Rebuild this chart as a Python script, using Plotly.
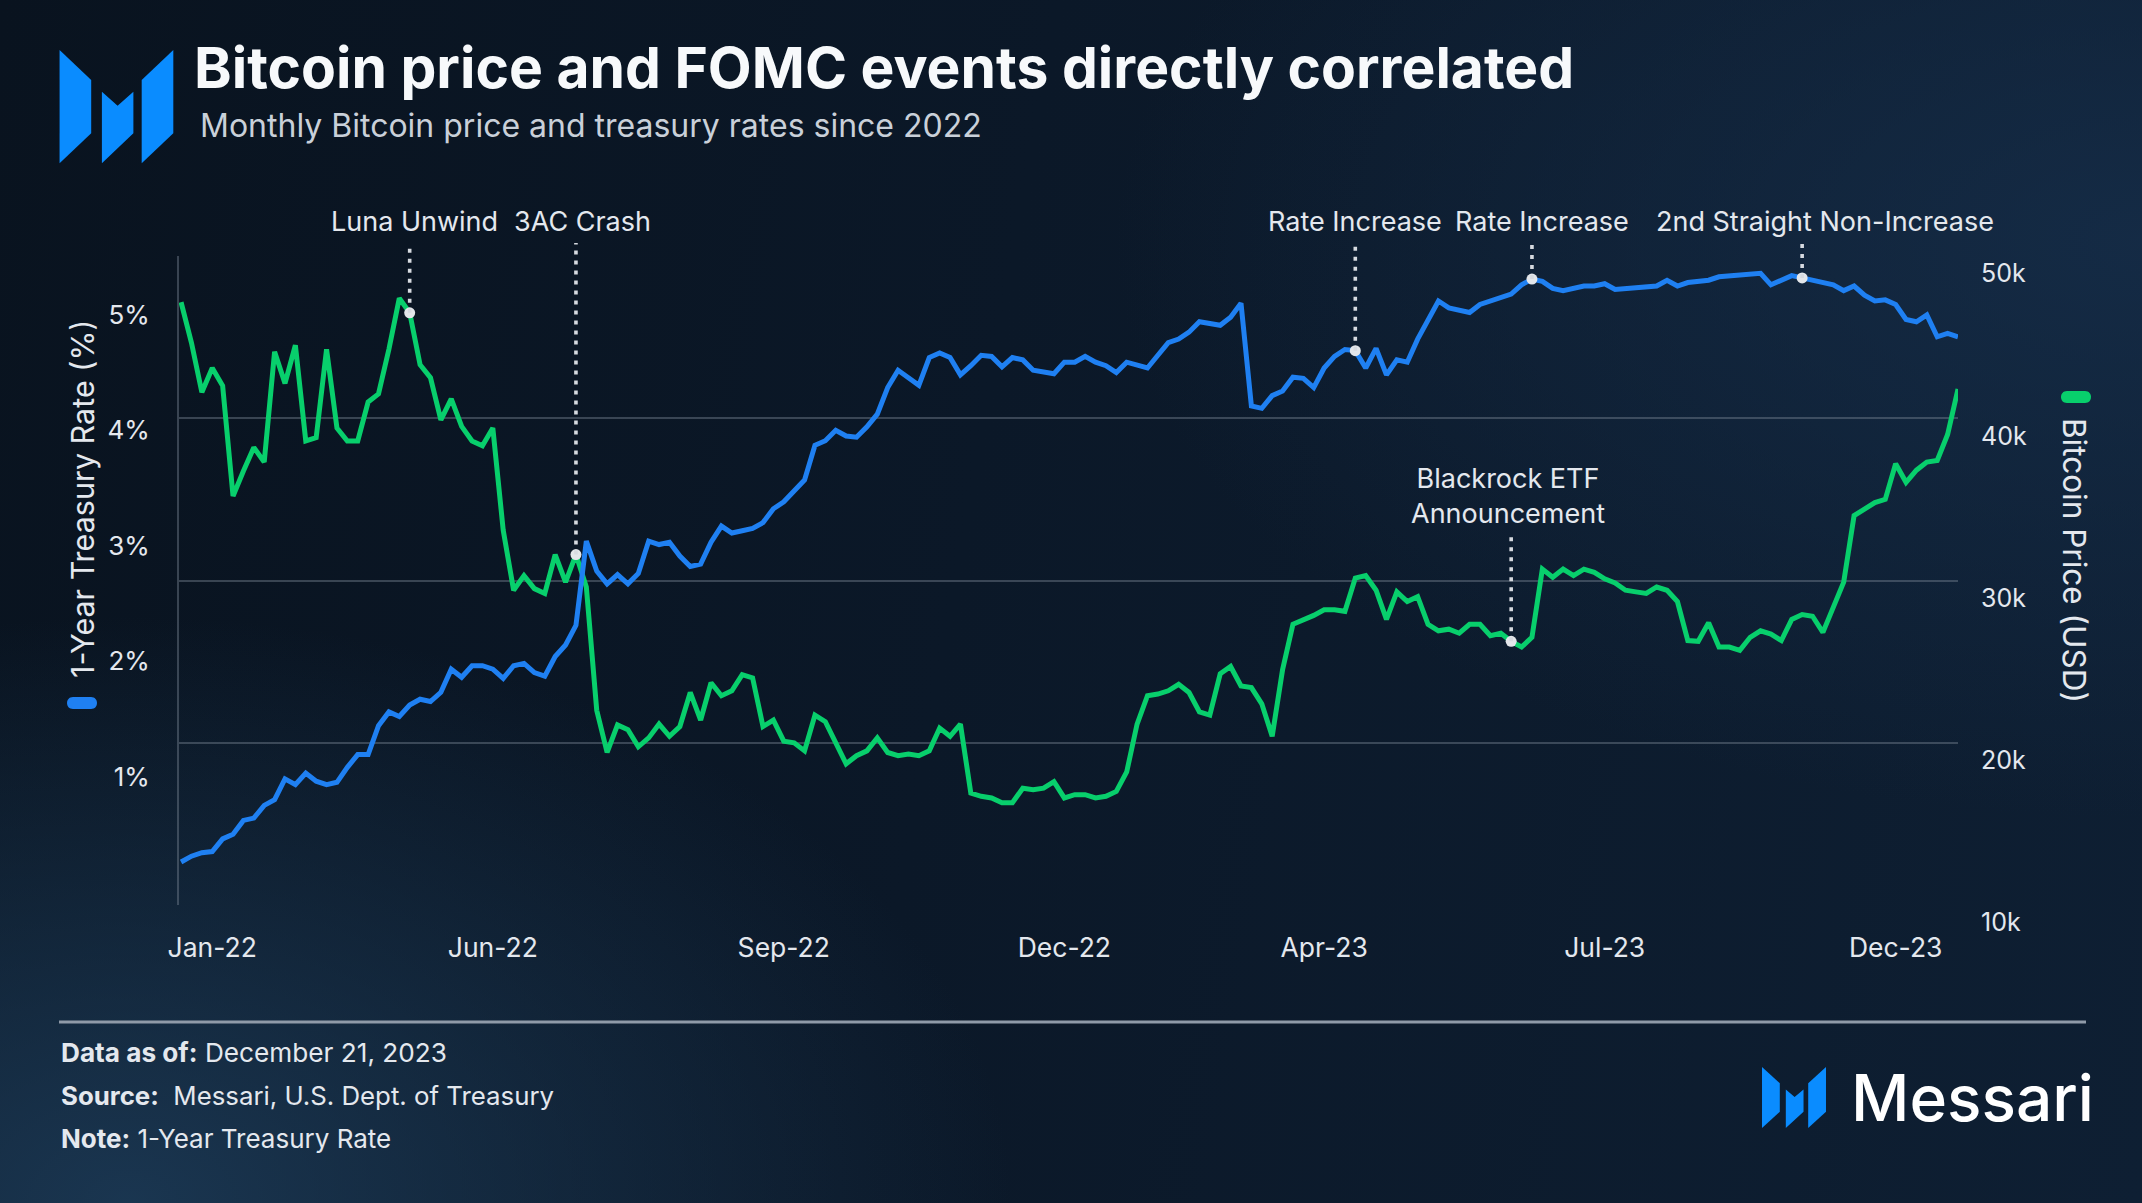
import pandas as pd
import plotly.graph_objects as go

# ---------------- data ----------------
# Bitcoin price in thousands of USD, one value every 3 business days from 2022-01-03
btc_price_k = [
    47.15, 44.65, 41.6, 43.1, 42.0, 35.2, 36.75, 38.2, 37.3, 44.1,
    42.15, 44.5, 38.6, 38.8, 44.25, 39.4, 38.6, 38.6, 41.0, 41.5,
    44.25, 47.4, 46.5, 43.3, 42.5, 39.9, 41.2, 39.5, 38.6, 38.3,
    39.4, 33.1, 29.4, 30.3, 29.5, 29.2, 31.6, 29.9, 31.6, 29.6,
    22.0, 19.4, 21.1, 20.8, 19.75, 20.3, 21.15, 20.4, 21.0, 23.1,
    21.4, 23.7, 22.9, 23.2, 24.2, 24.0, 21.0, 21.4, 20.1, 20.0,
    19.5, 21.7, 21.3, 20.0, 18.7, 19.2, 19.5, 20.3, 19.4, 19.2,
    19.3, 19.2, 19.5, 20.9, 20.4, 21.15, 16.9, 16.7, 16.6, 16.3,
    16.3, 17.2, 17.1, 17.2, 17.6, 16.6, 16.8, 16.8, 16.6, 16.7,
    17.0, 18.2, 21.15, 22.9, 23.0, 23.2, 23.6, 23.1, 21.9, 21.7,
    24.25, 24.7, 23.5, 23.4, 22.4, 20.4, 24.5, 27.3, 27.55, 27.85,
    28.2, 28.2, 28.1, 30.15, 30.3, 29.4, 27.6, 29.3, 28.7, 29.0,
    27.3, 26.9, 27.0, 26.75, 27.3, 27.3, 26.6, 26.75, 26.25, 25.9,
    26.5, 30.7, 30.2, 30.7, 30.3, 30.7, 30.5, 30.1, 29.85, 29.4,
    29.3, 29.2, 29.6, 29.4, 28.7, 26.3, 26.25, 27.4, 25.9, 25.9,
    25.7, 26.5, 26.9, 26.7, 26.3, 27.6, 27.9, 27.8, 26.8, 28.4,
    29.9, 34.0, 34.4, 34.8, 35.0, 37.2, 36.05, 36.8, 37.3, 37.4,
    39.0, 41.8,
]

# 1-Year Treasury rate in percent, same dates
treasury_rate_pct = [
    0.26, 0.31, 0.34, 0.35, 0.46, 0.50, 0.62, 0.64, 0.75, 0.80,
    0.98, 0.93, 1.03, 0.96, 0.93, 0.95, 1.08, 1.19, 1.19, 1.44,
    1.56, 1.52, 1.62, 1.67, 1.65, 1.73, 1.93, 1.86, 1.96, 1.96,
    1.93, 1.85, 1.96, 1.98, 1.90, 1.87, 2.04, 2.14, 2.31, 3.04,
    2.78, 2.67, 2.75, 2.67, 2.76, 3.04, 3.01, 3.03, 2.91, 2.82,
    2.84, 3.03, 3.17, 3.11, 3.13, 3.15, 3.20, 3.32, 3.38, 3.48,
    3.57, 3.87, 3.91, 4.00, 3.95, 3.94, 4.03, 4.14, 4.37, 4.52,
    4.46, 4.39, 4.63, 4.67, 4.63, 4.48, 4.56, 4.65, 4.64, 4.55,
    4.63, 4.61, 4.52, 4.50, 4.49, 4.59, 4.59, 4.64, 4.59, 4.56,
    4.50, 4.59, 4.56, 4.54, 4.65, 4.76, 4.79, 4.85, 4.94, 4.92,
    4.91, 4.98, 5.10, 4.21, 4.19, 4.30, 4.34, 4.46, 4.45, 4.37,
    4.54, 4.64, 4.70, 4.69, 4.54, 4.71, 4.48, 4.61, 4.59, 4.79,
    4.95, 5.12, 5.06, 5.04, 5.02, 5.09, 5.12, 5.16, 5.18, 5.26,
    5.31, 5.29, 5.23, 5.21, 5.23, 5.25, 5.25, 5.27, 5.22, 5.23,
    5.23, 5.24, 5.25, 5.30, 5.25, 5.28, 5.29, 5.30, 5.33, 5.34,
    5.34, 5.35, 5.36, 5.26, 5.30, 5.34, 5.32, 5.30, 5.28, 5.26,
    5.21, 5.25, 5.17, 5.12, 5.13, 5.09, 4.96, 4.94, 5.00, 4.81,
    4.84, 4.81,
]

dates = pd.bdate_range("2022-01-03", periods=len(btc_price_k), freq="3B").strftime("%Y-%m-%d").tolist()

x_tick_index = [3, 30, 58, 85, 110, 137, 165]
x_tick_text = ["Jan-22", "Jun-22", "Sep-22", "Dec-22", "Apr-23", "Jul-23", "Dec-23"]
rate_ticks = [1, 2, 3, 4, 5]
rate_tick_text = ["1%", "2%", "3%", "4%", "5%"]
btc_ticks_k = [10, 20, 30, 40, 50]
btc_tick_text = ["10k", "20k", "30k", "40k", "50k"]

event_labels = ["Luna Unwind", "3AC Crash", "Rate Increase", "Rate Increase",
                "2nd Straight Non-Increase", "Blackrock ETF<br>Announcement"]
event_index = [22, 38, 113, 130, 156, 128]
event_series = ["btc", "btc", "rate", "rate", "rate", "btc"]

# ---------------- styling / layout constants ----------------
W, H = 2142, 1203
L, R, T, B = 179, 184, 256, 298
PW, PH = W - L - R, H - T - B
FONT = "Inter, Liberation Sans, Arial, sans-serif"
BLUE = "#1f80f2"
GREEN = "#08cf6c"
GRID = "rgba(125,135,150,0.42)"
TXT = "#e4e8ee"
LOGO_BLUE = "#0a8cff"

RATE_RANGE = [-0.113, 5.51]
BTC_RANGE = [10, 50]


def px(xp):
    return (xp - L) / PW


def py(yp):
    return (H - B - yp) / PH


def to_paper(v, rng):
    return (v - rng[0]) / (rng[1] - rng[0])


fig = go.Figure()

fig.add_trace(go.Scatter(
    x=dates, y=btc_price_k, mode="lines", yaxis="y",
    line=dict(color=GREEN, width=5), name="Bitcoin Price (USD)",
    hoverinfo="skip"))
fig.add_trace(go.Scatter(
    x=dates, y=treasury_rate_pct, mode="lines", yaxis="y2",
    line=dict(color=BLUE, width=5), name="1-Year Treasury Rate (%)",
    hoverinfo="skip"))

series = {"btc": btc_price_k, "rate": treasury_rate_pct}
ranges = {"btc": BTC_RANGE, "rate": RATE_RANGE}
axis_of = {"btc": "y", "rate": "y2"}

shapes = []
annotations = []

# event markers, dotted leader lines and labels
label_y_px = [221, 221, 221, 221, 221, 496]
line_top_px = [243, 243, 243, 243, 243, 535]
label_xshift = [5, 7, 0, 10, 23, -3]
for lab, idx, ser, ly, lt, xs in zip(event_labels, event_index, event_series,
                                      label_y_px, line_top_px, label_xshift):
    val = series[ser][idx]
    shapes.append(dict(type="line", xref="x", yref="paper",
                       x0=dates[idx], x1=dates[idx],
                       y0=to_paper(val, ranges[ser]), y1=py(lt),
                       line=dict(color="#d6dae0", width=3.6, dash="4px,6px"),
                       layer="above"))
    fig.add_trace(go.Scatter(x=[dates[idx]], y=[val], yaxis=axis_of[ser], mode="markers",
                             marker=dict(color="#e3e6ea", size=11),
                             hoverinfo="skip", showlegend=False, cliponaxis=False))
    annotations.append(dict(text=lab, xref="x", yref="paper", x=dates[idx], y=py(ly),
                            xshift=xs, showarrow=False, xanchor="center", yanchor="middle",
                            font=dict(family=FONT, size=27, color=TXT), align="center"))

# logo polygons (normalised to a unit box)
LOGO_POLYS = [
    [(0, 0), (0.278, 0.265), (0.278, 0.735), (0, 1)],
    [(0.372, 0.368), (0.51, 0.492), (0.649, 0.368), (0.649, 0.735), (0.372, 1)],
    [(0.722, 0.265), (1, 0), (1, 0.735), (0.722, 1)],
]


def logo(x0, y0, w, h):
    out = []
    for poly in LOGO_POLYS:
        pts = [(px(x0 + u * w), py(y0 + v * h)) for u, v in poly]
        path = "M " + " L ".join(f"{a:.5f},{b:.5f}" for a, b in pts) + " Z"
        out.append(dict(type="path", xref="paper", yref="paper", path=path,
                        fillcolor=LOGO_BLUE, line=dict(width=0), layer="above"))
    return out


def pill(cx, cy, w, h, color):
    r = h / 2
    a, b = cx - w / 2 + r, cx + w / 2 - r
    k = 4 * r / 3
    P = lambda x, y: f"{px(x):.5f},{py(y):.5f}"
    path = (f"M {P(a, cy - r)} L {P(b, cy - r)} C {P(b + k, cy - r)} {P(b + k, cy + r)} {P(b, cy + r)} "
            f"L {P(a, cy + r)} C {P(a - k, cy + r)} {P(a - k, cy - r)} {P(a, cy - r)} Z")
    return dict(type="path", xref="paper", yref="paper", path=path,
                fillcolor=color, line=dict(width=0), layer="above")


shapes += logo(59.6, 50, 113.7, 113.3)
shapes += logo(1762, 1067, 64, 61)
shapes.append(pill(82, 703, 30, 12, BLUE))
shapes.append(pill(2076, 397, 30, 12, GREEN))
# footer rule
shapes.append(dict(type="line", xref="paper", yref="paper",
                   x0=px(59), x1=px(2086), y0=py(1022), y1=py(1022),
                   line=dict(color="#8f9aa8", width=3)))


def ann(text, xp, yp, size, color=TXT, xanchor="left", angle=0, weight=None):
    f = dict(family=FONT, size=size, color=color)
    if weight:
        f["weight"] = weight
    return dict(text=text, xref="paper", yref="paper", x=px(xp), y=py(yp),
                xanchor=xanchor, yanchor="middle", showarrow=False,
                textangle=angle, font=f)


annotations += [
    ann("<b>Bitcoin price and FOMC events directly correlated</b>", 192, 67, 57, "#f7f9fb"),
    ann("Monthly Bitcoin price and treasury rates since 2022", 198, 126, 32, "#c9d0d9"),
    ann("1-Year Treasury Rate (%)", 82, 499, 30.5, TXT, "center", -90),
    ann("Bitcoin Price (USD)", 2075, 560, 31.5, TXT, "center", 90),
    ann("<b>Data as of:</b> December 21, 2023", 59, 1052, 26.2),
    ann("<b>Source:</b>&nbsp; Messari, U.S. Dept. of Treasury", 59, 1095, 25.8),
    ann("<b>Note:</b> 1-Year Treasury Rate", 59, 1138, 26),
    ann("Messari", 1849, 1097, 64, "#ffffff", "left", 0, 500),
]

fig.update_layout(
    width=W, height=H,
    margin=dict(l=L, r=R, t=T, b=B, pad=0),
    paper_bgcolor="rgba(0,0,0,0)", plot_bgcolor="rgba(0,0,0,0)",
    showlegend=False, hovermode=False,
    font=dict(family=FONT, color=TXT),
    xaxis=dict(type="category", range=[-0.2, len(dates) - 1],
               tickvals=[dates[i] for i in x_tick_index], ticktext=x_tick_text,
               showgrid=False, showline=False, zeroline=False, ticks="",
               ticklabelstandoff=24, tickfont=dict(size=26.5, color=TXT)),
    yaxis=dict(side="right", range=BTC_RANGE, tickvals=btc_ticks_k, ticktext=btc_tick_text,
               showgrid=True, gridcolor=GRID, gridwidth=2, zeroline=False,
               showline=False, ticks="", ticklabelposition="outside bottom",
               ticklabelstandoff=22, tickfont=dict(size=25, color=TXT)),
    yaxis2=dict(overlaying="y", side="left", range=RATE_RANGE, tickvals=rate_ticks,
                ticktext=rate_tick_text, showgrid=False, zeroline=False, showline=True,
                linecolor=GRID, linewidth=2, ticks="", ticklabelstandoff=22,
                tickfont=dict(size=26, color=TXT)),
    shapes=shapes,
    annotations=annotations,
)

bg = ("radial-gradient(ellipse 55% 65% at 6% 100%, rgba(30,62,92,0.8) 0%, rgba(30,62,92,0) 75%), "
      "radial-gradient(ellipse 60% 60% at 100% 20%, rgba(22,46,74,0.8) 0%, rgba(22,46,74,0) 80%), "
      "linear-gradient(100deg, #09131f 0%, #0b1828 45%, #0e1f33 100%)")
post = ("document.documentElement.style.margin='0';document.body.style.margin='0';"
        "document.body.style.overflow='hidden';"
        f"document.body.style.background='{bg}';"
        "document.documentElement.style.background='#0c1a2b';")

fig.write_html("out.html", config={"displayModeBar": False}, post_script=post)
